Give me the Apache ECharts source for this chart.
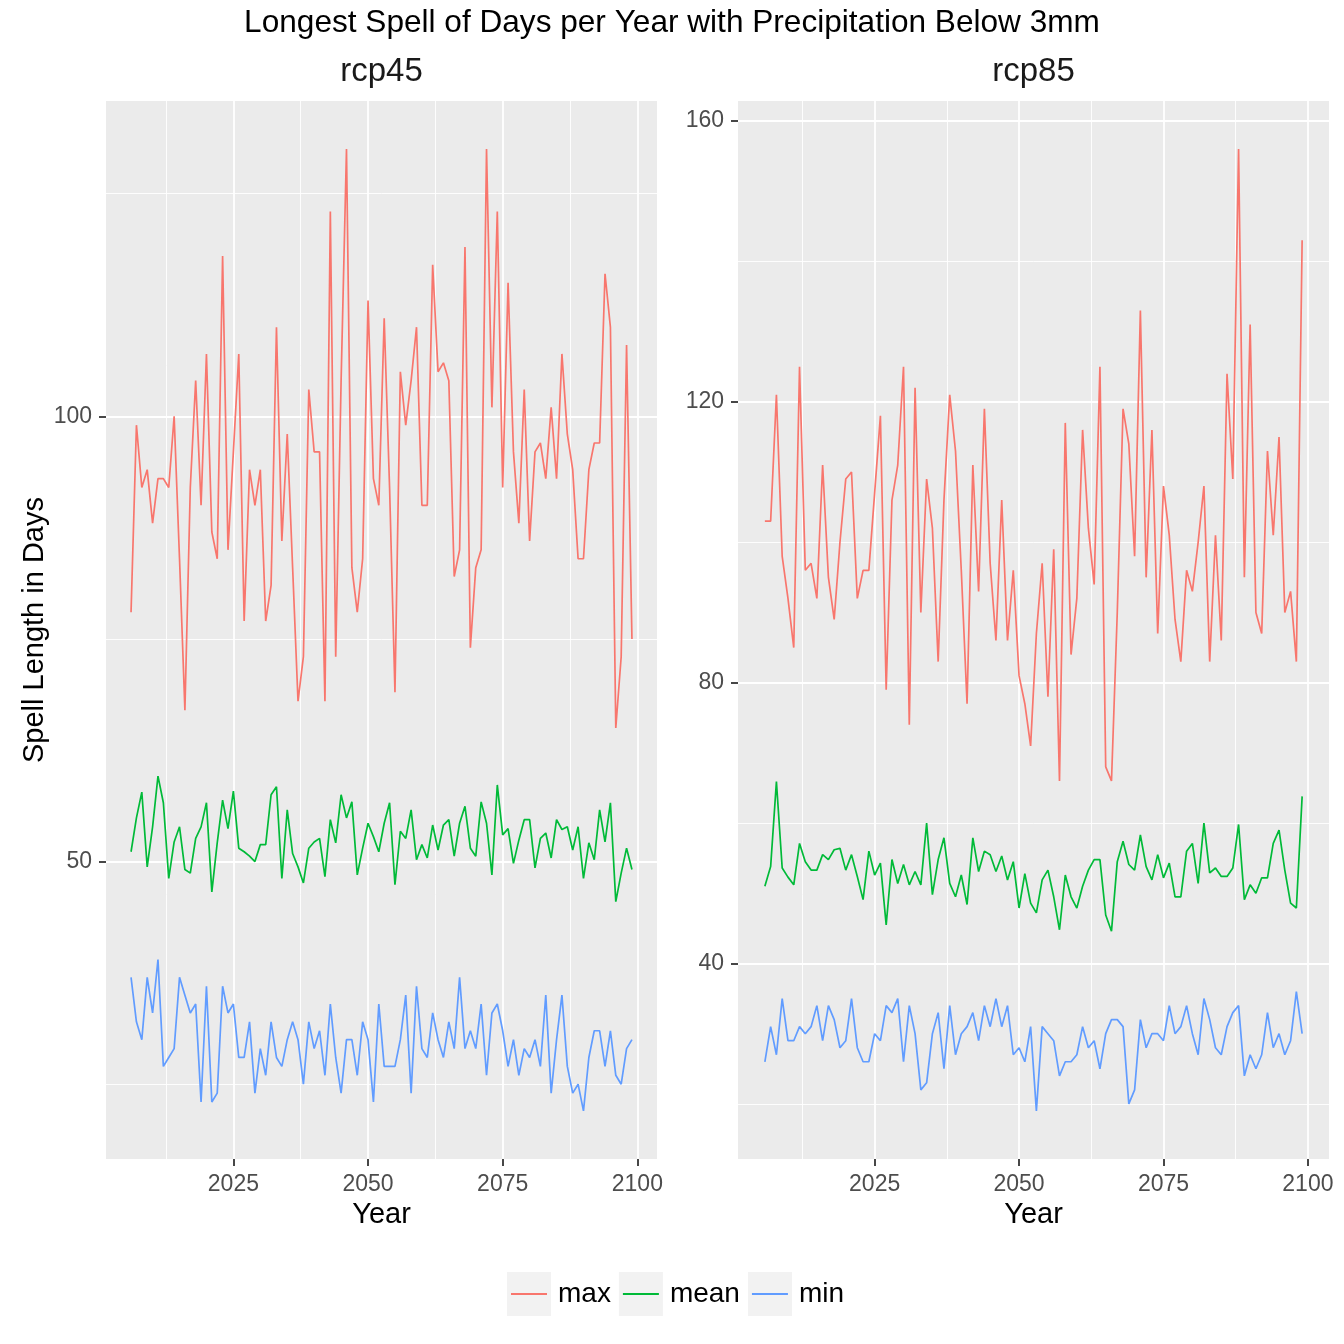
<!DOCTYPE html>
<html>
<head>
<meta charset="utf-8">
<script src="https://cdn.jsdelivr.net/npm/echarts@6/dist/echarts.min.js"></script>
<style>
  html, body { margin: 0; padding: 0; background: #fff; }
  #chart { width: 1344px; height: 1344px; }
</style>
</head>
<body>
<div id="chart"></div>
<script>
// years on the x axis
const years = [
  2006, 2007, 2008, 2009, 2010, 2011, 2012, 2013, 2014, 2015,
  2016, 2017, 2018, 2019, 2020, 2021, 2022, 2023, 2024, 2025,
  2026, 2027, 2028, 2029, 2030, 2031, 2032, 2033, 2034, 2035,
  2036, 2037, 2038, 2039, 2040, 2041, 2042, 2043, 2044, 2045,
  2046, 2047, 2048, 2049, 2050, 2051, 2052, 2053, 2054, 2055,
  2056, 2057, 2058, 2059, 2060, 2061, 2062, 2063, 2064, 2065,
  2066, 2067, 2068, 2069, 2070, 2071, 2072, 2073, 2074, 2075,
  2076, 2077, 2078, 2079, 2080, 2081, 2082, 2083, 2084, 2085,
  2086, 2087, 2088, 2089, 2090, 2091, 2092, 2093, 2094, 2095,
  2096, 2097, 2098, 2099
];

// rcp45 panel
const rcp45Max = [
  78, 99, 92, 94, 88, 93, 93, 92, 100, 84,
  67, 92, 104, 90, 107, 87, 84, 118, 85, 96,
  107, 77, 94, 90, 94, 77, 81, 110, 86, 98,
  83, 68, 73, 103, 96, 96, 68, 123, 73, 104,
  130, 83, 78, 84, 113, 93, 90, 111, 92, 69,
  105, 99, 104, 110, 90, 90, 117, 105, 106, 104,
  82, 85, 119, 74, 83, 85, 130, 101, 123, 92,
  115, 96, 88, 103, 86, 96, 97, 93, 101, 93,
  107, 98, 94, 84, 84, 94, 97, 97, 116, 110,
  65, 73, 108, 75
];
const rcp45Mean = [
  51.1, 54.9, 57.8, 49.4, 53.9, 59.6, 56.6, 48.1, 52.2, 53.9,
  49.1, 48.7, 52.6, 53.9, 56.6, 46.6, 52.1, 56.9, 53.7, 57.9,
  51.5, 51.1, 50.6, 50.0, 51.9, 51.9, 57.5, 58.4, 48.1, 55.8,
  50.9, 49.4, 47.6, 51.5, 52.2, 52.6, 48.3, 54.7, 52.1, 57.5,
  54.9, 56.7, 48.5, 51.5, 54.3, 52.8, 51.1, 54.3, 56.6, 47.4,
  53.4, 52.6, 55.8, 50.2, 51.9, 50.4, 54.1, 51.3, 54.1, 54.7,
  50.6, 54.3, 56.2, 51.5, 50.6, 56.7, 54.3, 48.5, 58.6, 53.0,
  53.7, 49.8, 52.4, 54.7, 54.7, 49.3, 52.6, 53.2, 50.4, 54.7,
  53.6, 53.9, 51.3, 53.9, 48.1, 52.1, 50.2, 55.8, 52.2, 56.6,
  45.5, 48.7, 51.5, 49.1
];
const rcp45Min = [
  37, 32, 30, 37, 33, 39, 27, 28, 29, 37,
  35, 33, 34, 23, 36, 23, 24, 36, 33, 34,
  28, 28, 32, 24, 29, 26, 32, 28, 27, 30,
  32, 30, 25, 32, 29, 31, 26, 34, 28, 24,
  30, 30, 26, 32, 30, 23, 34, 27, 27, 27,
  30, 35, 24, 36, 29, 28, 33, 30, 28, 32,
  29, 37, 29, 31, 29, 34, 26, 33, 34, 31,
  27, 30, 26, 29, 28, 30, 27, 35, 24, 30,
  35, 27, 24, 25, 22, 28, 31, 31, 27, 31,
  26, 25, 29, 30
];

// rcp85 panel
const rcp85Max = [
  103, 103, 121, 98, 92, 85, 125, 96, 97, 92,
  111, 95, 89, 100, 109, 110, 92, 96, 96, 107,
  118, 79, 106, 111, 125, 74, 122, 90, 109, 102,
  83, 106, 121, 113, 96, 77, 111, 93, 119, 97,
  86, 106, 86, 96, 81, 77, 71, 87, 97, 78,
  99, 66, 117, 84, 92, 116, 102, 94, 125, 68,
  66, 90, 119, 114, 98, 133, 95, 116, 87, 108,
  101, 89, 83, 96, 93, 100, 108, 83, 101, 86,
  124, 109, 156, 95, 131, 90, 87, 113, 101, 115,
  90, 93, 83, 143
];
const rcp85Mean = [
  51.0, 53.8, 65.9, 53.6, 52.3, 51.2, 57.1, 54.5, 53.3, 53.3,
  55.5, 54.8, 56.2, 56.4, 53.3, 55.5, 52.4, 49.1, 56.0, 52.6,
  54.3, 45.5, 54.8, 51.4, 54.1, 51.2, 53.1, 51.2, 60.0, 49.8,
  54.8, 57.9, 51.4, 49.5, 52.6, 48.4, 57.9, 53.1, 56.0, 55.5,
  53.1, 55.3, 51.9, 54.5, 47.9, 52.8, 48.6, 47.2, 51.9, 53.3,
  49.5, 44.8, 52.6, 49.5, 47.9, 51.0, 53.3, 54.8, 54.8, 46.9,
  44.6, 54.5, 57.4, 54.1, 53.3, 58.3, 53.8, 51.9, 55.5, 52.2,
  54.3, 49.5, 49.5, 56.0, 57.1, 51.4, 60.0, 52.9, 53.6, 52.4,
  52.4, 53.6, 59.8, 49.1, 51.2, 50.0, 52.2, 52.2, 57.1, 59.0,
  53.3, 48.6, 47.9, 63.8
];
const rcp85Min = [
  26, 31, 27, 35, 29, 29, 31, 30, 31, 34,
  29, 34, 32, 28, 29, 35, 28, 26, 26, 30,
  29, 34, 33, 35, 26, 34, 30, 22, 23, 30,
  33, 25, 34, 27, 30, 31, 33, 29, 34, 31,
  35, 31, 34, 27, 28, 26, 31, 19, 31, 30,
  29, 24, 26, 26, 27, 31, 28, 29, 25, 30,
  32, 32, 31, 20, 22, 32, 28, 30, 30, 29,
  34, 30, 31, 34, 30, 27, 35, 32, 28, 27,
  31, 33, 34, 24, 27, 25, 27, 33, 28, 30,
  27, 29, 36, 30
];

// tick labels and grid lines
const xTicks = [2025, 2050, 2075, 2100];
const xMinorTicks = [2012.5, 2037.5, 2062.5, 2087.5];
const rcp45YTicks = [50, 100];
const rcp45YMinor = [25, 75, 125];
const rcp85YTicks = [40, 80, 120, 160];
const rcp85YMinor = [20, 60, 100, 140];

const seriesNames = ['max', 'mean', 'min'];
const seriesColors = ['#F8766D', '#00BA38', '#619CFF'];

const FONT = "'Liberation Sans', Arial, sans-serif";

const chart = echarts.init(document.getElementById('chart'), null, { renderer: 'canvas' });

function pairs(vals) {
  return years.map((y, k) => [y, vals[k]]);
}

function majorAxis(gridIndex, ticks, range, step, margin, extra) {
  return Object.assign({
    gridIndex: gridIndex,
    type: 'value',
    min: range[0],
    max: range[1],
    minInterval: step,
    maxInterval: step,
    axisLine: { show: true, onZero: false, lineStyle: { color: 'rgba(0,0,0,0)', width: 0 } },
    axisTick: { show: true, inside: false, customValues: ticks, length: 7, lineStyle: { color: '#333333', width: 1.8 } },
    axisLabel: {
      show: true, customValues: ticks, fontSize: 23, color: '#4D4D4D', fontFamily: FONT, margin: margin,
      formatter: v => (ticks.indexOf(v) >= 0 ? String(v) : '')
    },
    splitLine: { show: true, lineStyle: { color: '#FFFFFF', width: 1.8 } }
  }, extra || {});
}

function minorAxis(gridIndex, ticks, range, step) {
  return {
    gridIndex: gridIndex,
    type: 'value',
    min: range[0],
    max: range[1],
    minInterval: step,
    maxInterval: step,
    axisLine: { show: false },
    axisTick: { show: false, customValues: ticks },
    axisLabel: { show: false, customValues: ticks },
    splitLine: { show: true, lineStyle: { color: '#FFFFFF', width: 0.9 } }
  };
}

const xRange = [2001.35, 2103.65];
const rcp45Range = [16.6, 135.4];
const rcp85Range = [12.15, 162.85];

const series = [];
[[rcp45Max, rcp45Mean, rcp45Min], [rcp85Max, rcp85Mean, rcp85Min]].forEach((group, p) => {
  group.forEach((vals, s) => {
    series.push({
      name: seriesNames[s],
      type: 'line',
      xAxisIndex: p * 2,
      yAxisIndex: p * 2,
      data: pairs(vals),
      showSymbol: false,
      symbol: 'none',
      lineStyle: { width: 1.7, color: seriesColors[s] },
      itemStyle: { color: seriesColors[s] },
      emphasis: { disabled: true },
      z: 3
    });
  });
});

const lineIcon = 'path://M0,0L0.01,0L0,0.01Z M44,44L43.99,44L44,43.99Z M4,21.1H40V22.9H4Z';

const legendBase = {
  orient: 'horizontal',
  left: 507,
  top: 1272,
  padding: 0,
  itemWidth: 44,
  itemHeight: 44,
  itemGap: 8,
  selectedMode: false,
  data: seriesNames
};

const option = {
  animation: false,
  backgroundColor: '#FFFFFF',
  textStyle: { fontFamily: FONT },
  title: [
    { text: 'Longest Spell of Days per Year with Precipitation Below 3mm', left: 672, top: 23,
      textAlign: 'center', textVerticalAlign: 'middle', padding: 0,
      textStyle: { fontSize: 31.6, fontWeight: 'normal', color: '#000', fontFamily: FONT } },
    { text: 'rcp45', left: 381.5, top: 72, textAlign: 'center', textVerticalAlign: 'middle', padding: 0,
      textStyle: { fontSize: 33, fontWeight: 'normal', color: '#1A1A1A', fontFamily: FONT } },
    { text: 'rcp85', left: 1033.5, top: 72, textAlign: 'center', textVerticalAlign: 'middle', padding: 0,
      textStyle: { fontSize: 33, fontWeight: 'normal', color: '#1A1A1A', fontFamily: FONT } },
    { text: 'Year', left: 381.5, top: 1215, textAlign: 'center', textVerticalAlign: 'middle', padding: 0,
      textStyle: { fontSize: 29, fontWeight: 'normal', color: '#000', fontFamily: FONT } },
    { text: 'Year', left: 1033.5, top: 1215, textAlign: 'center', textVerticalAlign: 'middle', padding: 0,
      textStyle: { fontSize: 29, fontWeight: 'normal', color: '#000', fontFamily: FONT } }
  ],
  legend: [
    Object.assign({}, legendBase, {
      icon: 'rect',
      itemStyle: { color: '#F2F2F2', borderWidth: 0 },
      textStyle: { fontSize: 28, color: '#000', fontFamily: FONT, padding: [12, 0, 0, 2] }
    }),
    Object.assign({}, legendBase, {
      icon: lineIcon,
      itemStyle: { borderWidth: 0 },
      textStyle: { fontSize: 28, color: 'rgba(0,0,0,0)', fontFamily: FONT, padding: [12, 0, 0, 2] }
    })
  ],
  grid: [
    { left: 106, top: 101, width: 551, height: 1058, show: true, backgroundColor: '#EBEBEB', borderWidth: 0, containLabel: false },
    { left: 738, top: 101, width: 591, height: 1058, show: true, backgroundColor: '#EBEBEB', borderWidth: 0, containLabel: false }
  ],
  xAxis: [
    majorAxis(0, xTicks, xRange, 25, 14, { position: 'bottom' }),
    minorAxis(0, xMinorTicks, xRange, 12.5),
    majorAxis(1, xTicks, xRange, 25, 14, { position: 'bottom' }),
    minorAxis(1, xMinorTicks, xRange, 12.5)
  ],
  yAxis: [
    majorAxis(0, rcp45YTicks, rcp45Range, 50, 14, {
      position: 'left',
      name: 'Spell Length in Days', nameLocation: 'middle', nameRotate: 90, nameGap: 57,
      nameTextStyle: { fontSize: 29, color: '#000', fontFamily: FONT }
    }),
    minorAxis(0, rcp45YMinor, rcp45Range, 25),
    majorAxis(1, rcp85YTicks, rcp85Range, 40, 14, { position: 'left' }),
    minorAxis(1, rcp85YMinor, rcp85Range, 20)
  ],
  series: series
};

chart.setOption(option);
</script>
</body>
</html>
